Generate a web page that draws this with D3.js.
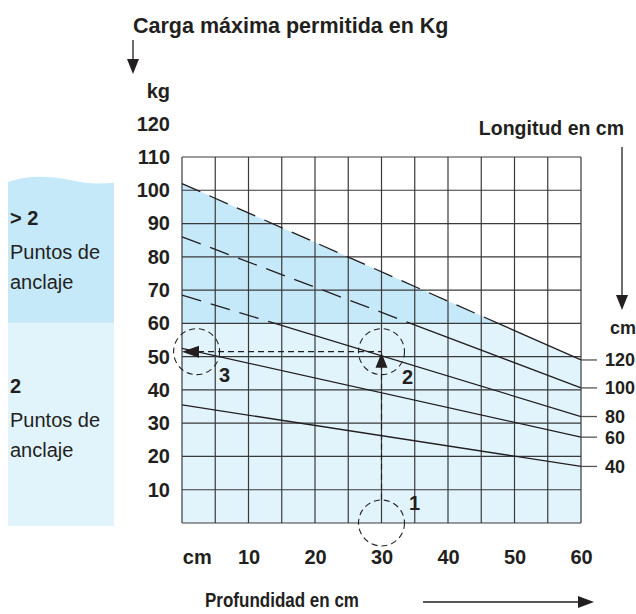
<!DOCTYPE html>
<html>
<head>
<meta charset="utf-8">
<script src="https://cdn.jsdelivr.net/npm/d3@7"></script>
<style>
  html, body { margin: 0; padding: 0; background: #fff; }
  svg { display: block; font-family: "Liberation Sans", Arial, Helvetica, sans-serif; }
  .bold { font-weight: bold; }
</style>
</head>
<body>
<svg id="chart" width="636" height="614"></svg>
<script>
// Length of the part (cm) for each load curve
const lengths = [120, 100, 80, 60, 40];
// Maximum permitted load (kg) at depth 0 cm and at depth 60 cm
const loadAtDepthStart = [102, 86, 68.5, 52.5, 35.5];
const loadAtDepthEnd = [49, 40.6, 32, 25.8, 17];
// Axis ticks
const depthTicks = [10, 20, 30, 40, 50, 60];
const loadTicks = [10, 20, 30, 40, 50, 60, 70, 80, 90, 100, 110, 120];
// Load above which more than two anchor points are needed
const anchorThreshold = [60];
// Worked example: depth 30 cm, length 80 cm -> about 51.5 kg
const exampleDepth = [30];
const exampleLoad = [51.5];

const svg = d3.select("#chart");
const x = d3.scaleLinear().domain([0, 60]).range([182, 581]);
const y = d3.scaleLinear().domain([0, 110]).range([523, 157]);

const darkBlue = "#c6e9f9";
const lightBlue = "#e1f4fc";
const ink = "#231f20";
const thr = anchorThreshold[0];
const tickSize = 20;

// Left legend panel
const panel = svg.append("g");
panel.append("path")
  .attr("d", `M8,${y(thr)} L8,182 C25,176 45,175 70,180 C88,184 100,184 114,182.5 L114,${y(thr)} Z`)
  .attr("fill", darkBlue);
panel.append("rect").attr("x", 8).attr("y", y(thr)).attr("width", 106).attr("height", y(0) + 3 - y(thr))
  .attr("fill", lightBlue);

const legendText = [
  { t: "> 2", b: true, yy: 225 },
  { t: "Puntos de", b: false, yy: 259 },
  { t: "anclaje", b: false, yy: 289 },
  { t: "2", b: true, yy: 393 },
  { t: "Puntos de", b: false, yy: 427 },
  { t: "anclaje", b: false, yy: 457 }
];
panel.selectAll("text").data(legendText).join("text")
  .attr("x", 10).attr("y", d => d.yy)
  .attr("font-size", 20)
  .attr("font-weight", d => d.b ? "bold" : "normal")
  .attr("fill", ink)
  .text(d => d.t);

// Shaded zones: under the 120 cm curve (light), and above the threshold (dark)
const topA = loadAtDepthStart[0], topB = loadAtDepthEnd[0];
const crossTop = (topA - thr) / (topA - topB) * 60;
svg.append("path")
  .attr("d", d3.line()([[x(0), y(0)], [x(0), y(topA)], [x(60), y(topB)], [x(60), y(0)]]) + "Z")
  .attr("fill", lightBlue);
svg.append("path")
  .attr("d", d3.line()([[x(0), y(thr)], [x(0), y(topA)], [x(crossTop), y(thr)]]) + "Z")
  .attr("fill", darkBlue);

// Grid
const grid = svg.append("g").attr("stroke", "#3a3a3a").attr("stroke-width", 1.2);
grid.selectAll(".v").data(d3.range(0, 60.01, 5)).join("line")
  .attr("x1", d => x(d)).attr("x2", d => x(d)).attr("y1", y(110)).attr("y2", y(0));
grid.selectAll(".h").data(d3.range(0, 110.01, 10)).join("line")
  .attr("x1", x(0)).attr("x2", x(60)).attr("y1", d => y(d)).attr("y2", d => y(d));

// Load curves: dashed above the threshold, solid below
const curves = svg.append("g").attr("stroke", ink).attr("stroke-width", 1.3).attr("fill", "none");
lengths.forEach((len, i) => {
  const a = loadAtDepthStart[i], b = loadAtDepthEnd[i];
  if (a > thr) {
    const xc = (a - thr) / (a - b) * 60;
    curves.append("line").attr("x1", x(0)).attr("y1", y(a)).attr("x2", x(xc)).attr("y2", y(thr))
      .attr("stroke-dasharray", "20,10");
    curves.append("line").attr("x1", x(xc)).attr("y1", y(thr)).attr("x2", x(60)).attr("y2", y(b));
  } else {
    curves.append("line").attr("x1", x(0)).attr("y1", y(a)).attr("x2", x(60)).attr("y2", y(b));
  }
  // leader to the length label
  svg.append("line").attr("x1", x(60)).attr("x2", x(60) + 16).attr("y1", y(b)).attr("y2", y(b))
    .attr("stroke", "#555").attr("stroke-width", 1.3);
  svg.append("text").attr("class", "bold").attr("x", 605).attr("y", y(b)).attr("dy", "0.36em")
    .attr("font-size", 18).attr("fill", ink).text(len);
});

// Y axis labels
const yAxis = svg.append("g").attr("transform", `translate(${x(0)},0)`)
  .call(d3.axisLeft(y).tickValues(loadTicks).tickSize(0).tickPadding(12));
yAxis.select(".domain").remove();
yAxis.selectAll("text").attr("font-size", tickSize).attr("font-weight", "bold").attr("fill", ink)
  .attr("font-family", null);
svg.append("text").attr("class", "bold").attr("x", 170).attr("y", y(130)).attr("dy", "0.36em")
  .attr("text-anchor", "end").attr("font-size", tickSize).attr("fill", ink).text("kg");

// X axis labels
const xAxis = svg.append("g").attr("transform", `translate(0,550)`)
  .call(d3.axisBottom(x).tickValues(depthTicks).tickSize(0).tickPadding(0));
xAxis.select(".domain").remove();
xAxis.selectAll("text").attr("font-size", tickSize).attr("font-weight", "bold").attr("fill", ink)
  .attr("font-family", null);
svg.append("text").attr("class", "bold").attr("x", x(2.3)).attr("y", 564)
  .attr("text-anchor", "middle").attr("font-size", tickSize).attr("fill", ink).text("cm");

// Titles and arrows
svg.append("text").attr("class", "bold").attr("x", 133).attr("y", 33)
  .attr("font-size", 21.5).attr("fill", ink).text("Carga máxima permitida en Kg");
svg.append("line").attr("x1", 133).attr("x2", 133).attr("y1", 40).attr("y2", 62).attr("stroke", ink).attr("stroke-width", 1.3);
svg.append("path").attr("d", "M127,59 L139,59 L133,74 Z").attr("fill", ink);

svg.append("text").attr("class", "bold").attr("x", 624).attr("y", 135).attr("text-anchor", "end")
  .attr("font-size", 19.5).attr("fill", ink).text("Longitud en cm");
svg.append("line").attr("x1", 622).attr("x2", 622).attr("y1", 147).attr("y2", 298).attr("stroke", ink).attr("stroke-width", 1.3);
svg.append("path").attr("d", "M616,295 L628,295 L622,310 Z").attr("fill", ink);
svg.append("text").attr("class", "bold").attr("x", 610).attr("y", y(thr) + 11)
  .attr("font-size", 18).attr("fill", ink).text("cm");

svg.append("text").attr("class", "bold").attr("x", 205).attr("y", 607)
  .attr("font-size", 19.5).attr("textLength", 154).attr("lengthAdjust", "spacingAndGlyphs")
  .attr("fill", ink).text("Profundidad en cm");
svg.append("line").attr("x1", 423).attr("x2", 582).attr("y1", 602).attr("y2", 602).attr("stroke", ink).attr("stroke-width", 1.3);
svg.append("path").attr("d", "M578,596 L578,608 L594,602 Z").attr("fill", ink);

// Worked example: read depth up to the curve, then across to the load axis
const ex = x(exampleDepth[0]), ey = y(exampleLoad[0]);
const guide = svg.append("g").attr("stroke", ink).attr("stroke-width", 1.2).attr("fill", "none")
  .attr("stroke-dasharray", "6,4");
guide.append("line").attr("x1", ex).attr("x2", ex).attr("y1", y(7)).attr("y2", ey + 14);
guide.append("line").attr("x1", x(0) + 16).attr("x2", ex).attr("y1", ey).attr("y2", ey);

const circles = [
  { cx: ex, cy: y(0), lx: ex + 33, ly: y(0) - 20, t: "1" },
  { cx: ex, cy: ey, lx: ex + 26, ly: ey + 25, t: "2" },
  { cx: x(2.2), cy: ey, lx: x(2.2) + 28, ly: ey + 23, t: "3" }
];
svg.selectAll(".mark").data(circles).join("circle")
  .attr("cx", d => d.cx).attr("cy", d => d.cy).attr("r", 23)
  .attr("fill", "none").attr("stroke", ink).attr("stroke-width", 1.1).attr("stroke-dasharray", "6,4");
svg.selectAll(".marklabel").data(circles).join("text")
  .attr("x", d => d.lx).attr("y", d => d.ly).attr("dy", "0.36em")
  .attr("text-anchor", "middle").attr("font-size", tickSize).attr("font-weight", "bold").attr("fill", ink)
  .text(d => d.t);

// Arrowheads on the example path
svg.append("path").attr("d", `M${ex},${ey + 1} L${ex - 6},${ey + 16} L${ex + 6},${ey + 16} Z`).attr("fill", ink);
svg.append("path").attr("d", `M${x(0)},${ey} L${x(0) + 17},${ey - 6} L${x(0) + 17},${ey + 6} Z`).attr("fill", ink);
</script>
</body>
</html>
